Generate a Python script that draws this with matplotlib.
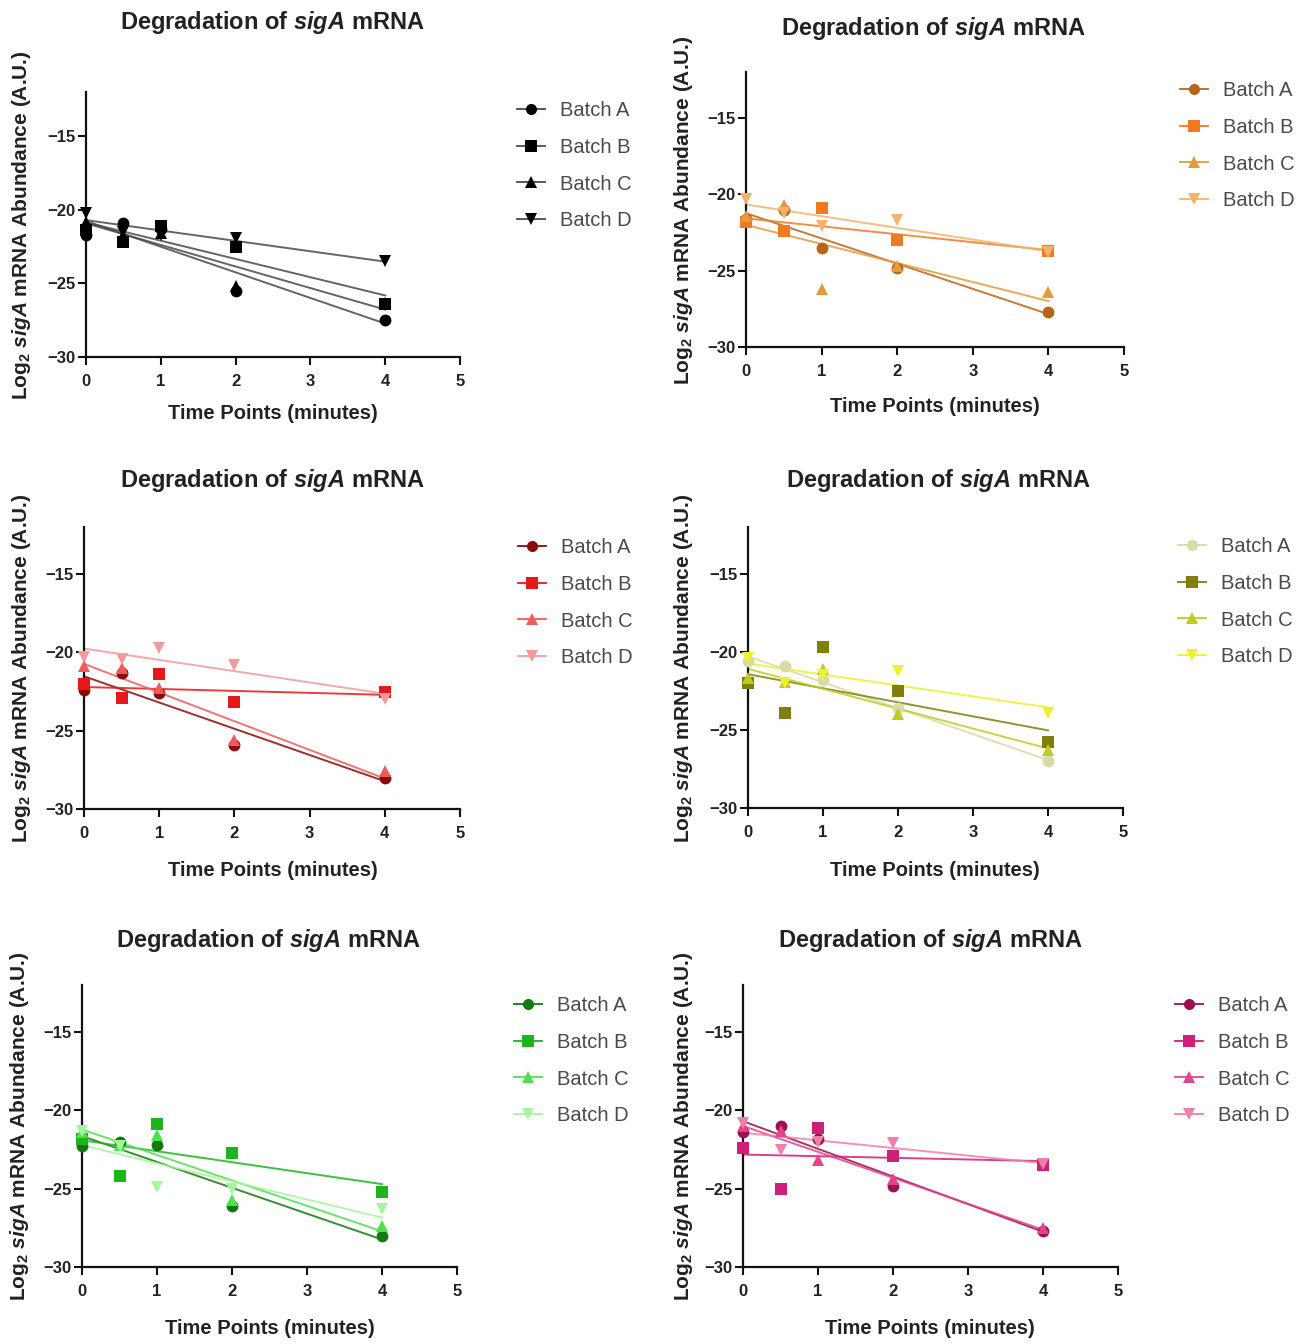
import numpy as np
import matplotlib
matplotlib.use('Agg')
import matplotlib.pyplot as plt
from matplotlib.lines import Line2D

plt.rcParams['font.family'] = ['Liberation Sans', 'DejaVu Sans']
plt.rcParams['mathtext.fontset'] = 'custom'
plt.rcParams['mathtext.rm'] = 'Liberation Sans:bold'
plt.rcParams['mathtext.it'] = 'Liberation Sans:bold:italic'
plt.rcParams['mathtext.bf'] = 'Liberation Sans:bold'

# ---------------- data ----------------
time_points = [0, 0.5, 1, 2, 4]
batches = ['Batch A', 'Batch B', 'Batch C', 'Batch D']
x_ticks = [0, 1, 2, 3, 4, 5]
y_ticks = [-30, -25, -20, -15]

# panel 1 (black)
p1_A = [-21.7, -20.9, -21.3, -25.5, -27.5]
p1_B = [-21.4, -22.2, -21.1, -22.5, -26.4]
p1_C = [-20.8, -21.7, -21.6, -25.2, -26.3]
p1_D = [-20.2, -21.5, -21.7, -21.9, -23.5]
# panel 2 (orange)
p2_A = [-21.6, -21.0, -23.5, -24.8, -27.7]
p2_B = [-21.8, -22.4, -20.9, -23.0, -23.7]
p2_C = [-21.4, -20.7, -26.2, -24.7, -26.4]
p2_D = [-20.3, -21.2, -22.1, -21.7, -23.8]
# panel 3 (red)
p3_A = [-22.4, -21.3, -22.6, -25.9, -28.0]
p3_B = [-22.0, -22.9, -21.4, -23.2, -22.5]
p3_C = [-20.9, -21.0, -22.3, -25.6, -27.6]
p3_D = [-20.3, -20.4, -19.7, -20.8, -23.0]
# panel 4 (yellow / olive)
p4_A = [-20.6, -20.9, -21.8, -23.6, -27.0]
p4_B = [-22.0, -23.9, -19.7, -22.5, -25.8]
p4_C = [-21.7, -21.9, -21.1, -24.0, -26.3]
p4_D = [-20.4, -22.0, -21.5, -21.2, -23.9]
# panel 5 (green)
p5_A = [-22.3, -22.0, -22.2, -26.1, -28.0]
p5_B = [-21.8, -24.2, -20.9, -22.7, -25.2]
p5_C = [-21.4, -22.2, -21.6, -25.7, -27.4]
p5_D = [-21.3, -22.3, -24.9, -25.0, -26.3]
# panel 6 (magenta)
p6_A = [-21.4, -21.0, -21.8, -24.8, -27.7]
p6_B = [-22.4, -25.0, -21.1, -22.9, -23.5]
p6_C = [-21.0, -21.3, -23.2, -24.4, -27.5]
p6_D = [-20.8, -22.5, -22.0, -22.1, -23.4]

panel_values = [
    [p1_A, p1_B, p1_C, p1_D],
    [p2_A, p2_B, p2_C, p2_D],
    [p3_A, p3_B, p3_C, p3_D],
    [p4_A, p4_B, p4_C, p4_D],
    [p5_A, p5_B, p5_C, p5_D],
    [p6_A, p6_B, p6_C, p6_D],
]

# ---------------- style ----------------
markers = ['o', 's', '^', 'v']
panel_colors = [
    ['#000000', '#000000', '#000000', '#000000'],
    ['#B8651B', '#F07A22', '#E69A3A', '#F4B26A'],
    ['#8B0A0A', '#E41A1A', '#EF5A5A', '#F39A9A'],
    ['#D6DBA8', '#7F7F0A', '#BFCB22', '#EEF030'],
    ['#137A13', '#1DB51D', '#4FE04F', '#A8F5A0'],
    ['#9C0F50', '#CF1F78', '#E5428C', '#F07EAB'],
]
line_colors_p1 = '#4a4a4a'

W, H = 1312, 1344
# axes in pixels: x at 0, x at 5, y at -30, y at -12
axes_px = [
    (86, 460, 357, 92),
    (746, 1124, 347, 72),
    (84, 460, 809, 527),
    (748, 1123, 808, 527),
    (82, 457, 1267, 985),
    (743, 1118, 1267, 985),
]
title_px = [(272, 23), (933, 28), (272, 481), (938, 481), (268, 940), (930, 940)]
xlabel_px = [(273, 413), (935, 407), (273, 870), (935, 870), (270, 1328), (930, 1328)]
ylabel_px = [(22, 225), (683, 210), (22, 668), (683, 668), (20, 1126), (683, 1126)]
legend_px = [(517, 111), (1180, 91), (518, 548), (1178, 547), (514, 1006), (1175, 1006)]
row_gap = 36.5

fig = plt.figure(figsize=(W / 100, H / 100), dpi=100)
fig.patch.set_facecolor('white')

title_txt = r'Degradation of $\mathit{sigA}$ mRNA'
ylabel_txt = r'Log$_\mathrm{2}$ $\mathit{sigA}$ mRNA Abundance (A.U.)'

for i, (vals, cols) in enumerate(zip(panel_values, panel_colors)):
    x0, x5, yb, yt = axes_px[i]
    ax = fig.add_axes([x0 / W, 1 - yb / H, (x5 - x0) / W, (yb - yt) / H])
    ax.set_xlim(0, 5)
    ax.set_ylim(-30, -12)
    ax.set_xticks(x_ticks)
    ax.set_yticks(y_ticks)
    for s in ['top', 'right']:
        ax.spines[s].set_visible(False)
    for s in ['left', 'bottom']:
        ax.spines[s].set_linewidth(1.6)
        ax.spines[s].set_color('#111111')
    ax.tick_params(axis='both', direction='out', length=5.5, width=1.5,
                   colors='#111111', labelsize=12)
    ax.tick_params(axis='x', pad=7)
    ax.tick_params(axis='y', pad=2)
    for lab in ax.get_xticklabels() + ax.get_yticklabels():
        lab.set_fontweight('bold')
        lab.set_color('#222222')

    handles = []
    t = np.array(time_points, dtype=float)
    for j, (y, c, m) in enumerate(zip(vals, cols, markers)):
        y = np.array(y, dtype=float)
        slope, icpt = np.polyfit(t, y, 1)
        xx = np.array([0.0, 4.0])
        lc = line_colors_p1 if i == 0 else c
        ax.plot(xx, slope * xx + icpt, color=lc, lw=1.4, alpha=0.85,
                zorder=2, clip_on=False)
        ax.plot(t, y, linestyle='none', marker=m, color=c, markersize=8.5,
                markeredgewidth=0, zorder=3, clip_on=False)
        handles.append(Line2D([], [], color=lc, lw=1.3,
                              marker=m, markersize=8, markerfacecolor=c,
                              markeredgewidth=0, label=batches[j]))

    lx, ly = legend_px[i]
    cy = ly + 1.5 * row_gap
    ax.legend(handles=handles, loc='center left',
              bbox_to_anchor=(lx / W, 1 - cy / H), bbox_transform=fig.transFigure,
              frameon=False, borderpad=0, borderaxespad=0, fontsize=14.5,
              labelcolor='#4a4a4a', handlelength=1.4, handletextpad=0.75,
              labelspacing=0.87)

    tx, ty = title_px[i]
    fig.text(tx / W, 1 - ty / H, title_txt, ha='center', va='center',
             fontsize=17, fontweight='bold', color='#222222')
    xx_, xy_ = xlabel_px[i]
    fig.text(xx_ / W, 1 - xy_ / H, 'Time Points (minutes)', ha='center',
             va='center', fontsize=14.5, fontweight='bold', color='#222222')
    yx, yy = ylabel_px[i]
    fig.text(yx / W, 1 - yy / H, ylabel_txt, ha='center', va='center',
             rotation=90, fontsize=15, fontweight='bold', color='#222222')

fig.savefig('out.png', dpi=100, facecolor='white')
